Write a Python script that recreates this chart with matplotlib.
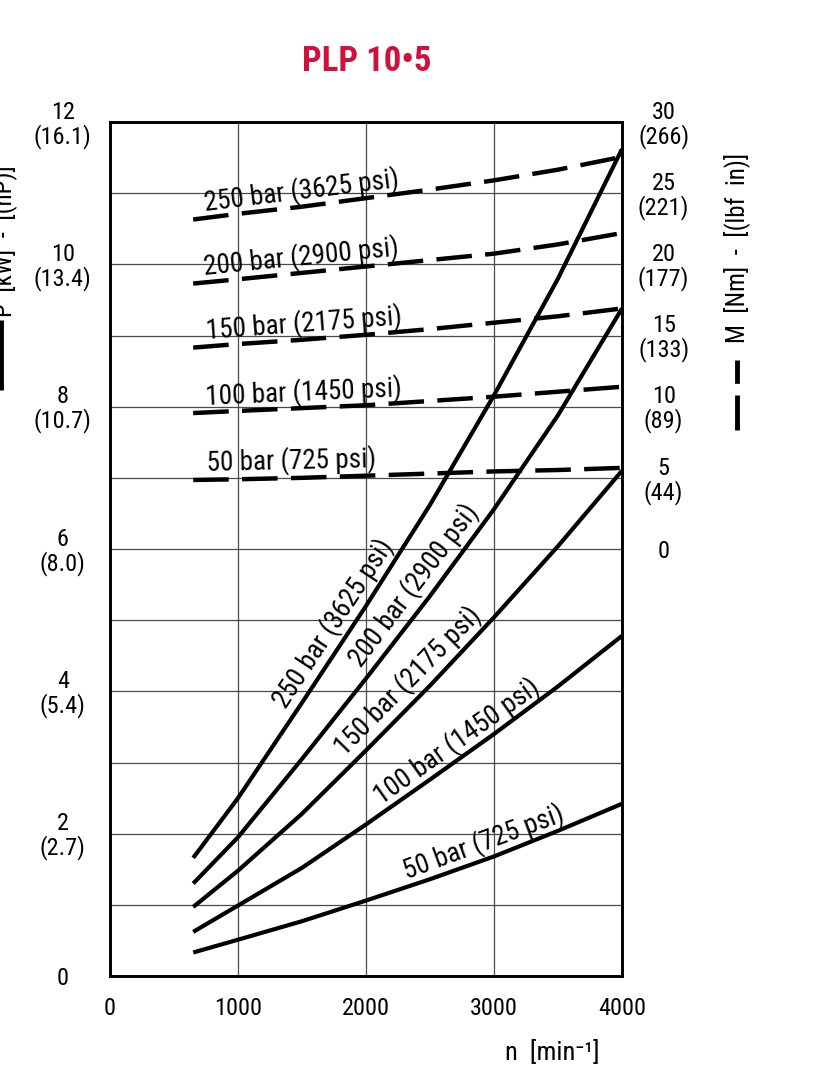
import numpy as np
import matplotlib
matplotlib.use('Agg')
import matplotlib.pyplot as plt
from matplotlib import font_manager
from matplotlib.lines import Line2D

# speed [min-1]
speed = [650, 1000, 1500, 2000, 2500, 3000, 3500, 4000]

bar_labels = ['50 bar (725 psi)', '100 bar (1450 psi)', '150 bar (2175 psi)',
              '200 bar (2900 psi)', '250 bar (3625 psi)']

# power P [kW] (solid lines)
power_50 = [0.33, 0.51, 0.77, 1.06, 1.36, 1.68, 2.04, 2.42]
power_100 = [0.62, 0.99, 1.52, 2.13, 2.76, 3.40, 4.07, 4.78]
power_150 = [0.97, 1.48, 2.28, 3.17, 4.08, 5.04, 6.04, 7.10]
power_200 = [1.30, 1.95, 3.05, 4.18, 5.34, 6.56, 7.88, 9.38]
power_250 = [1.66, 2.50, 3.84, 5.20, 6.62, 8.16, 9.80, 11.62]

# torque M [Nm] (dashed lines)
torque_50 = [4.85, 4.90, 5.00, 5.15, 5.30, 5.45, 5.55, 5.70]
torque_100 = [9.55, 9.70, 9.90, 10.10, 10.40, 10.70, 11.05, 11.40]
torque_150 = [14.15, 14.40, 14.70, 15.05, 15.45, 15.90, 16.35, 16.90]
torque_200 = [18.65, 18.95, 19.40, 19.85, 20.30, 20.75, 21.40, 22.20]
torque_250 = [23.15, 23.55, 24.05, 24.65, 25.25, 25.90, 26.65, 27.55]

power = [power_50, power_100, power_150, power_200, power_250]
torque = [torque_50, torque_100, torque_150, torque_200, torque_250]

n_ticks = [0, 1000, 2000, 3000, 4000]
kw_ticks = [0, 2, 4, 6, 8, 10, 12]
kw_labels = ['0', '2\n(2.7)', '4\n(5.4)', '6\n(8.0)', '8\n(10.7)', '10\n(13.4)', '12\n(16.1)']
nm_ticks = [0, 5, 10, 15, 20, 25, 30]
nm_labels = ['0', '5\n(44)', '10\n(89)', '15\n(133)', '20\n(177)', '25\n(221)', '30\n(266)']


def pick_font(names):
    for name in names:
        try:
            font_manager.findfont(font_manager.FontProperties(family=name),
                                  fallback_to_default=False)
            return name
        except ValueError:
            pass
    return 'DejaVu Sans'


font = pick_font(['Roboto Condensed', 'Liberation Sans Narrow', 'Liberation Sans'])
plt.rcParams['font.family'] = [font, 'DejaVu Sans']

W, H = 832, 1080
fig = plt.figure(figsize=(W / 100, H / 100), dpi=100)
ax = fig.add_axes([110 / W, 104 / H, 512 / W, 854 / H])
ax2 = ax.twinx()

ax.set_xlim(0, 4000)
ax.set_ylim(0, 12)
ax2.set_ylim(-30, 30)

ax.set_xticks(n_ticks)
ax.set_xticklabels([str(v) for v in n_ticks])
ax.set_yticks(kw_ticks)
ax.set_yticklabels(kw_labels)
ax.set_yticks(range(1, 12, 2), minor=True)
ax.grid(True, which='both', color='#4a4a4a', lw=0.9)
ax.set_axisbelow(True)
ax.tick_params(which='both', length=0)
ax.tick_params(axis='x', pad=15, labelsize=17.5)
ax.tick_params(axis='y', pad=34, labelsize=17.5)
for lab in ax.get_yticklabels():
    lab.set_ha('center')
    lab.set_multialignment('center')
    lab.set_linespacing(1.0)

ax2.set_yticks(nm_ticks)
ax2.set_yticklabels(nm_labels)
ax2.tick_params(length=0, pad=30, labelsize=17.5)
for lab in ax2.get_yticklabels():
    lab.set_ha('center')
    lab.set_multialignment('center')
    lab.set_linespacing(1.0)

for a in (ax, ax2):
    for s in a.spines.values():
        s.set_linewidth(1.9)
        s.set_color('black')

for p in power:
    ax.plot(speed, p, color='black', lw=3.0, solid_capstyle='butt',
            solid_joinstyle='round', clip_on=False)
for t in torque:
    ax2.plot(speed, t, color='black', lw=3.2, dashes=(8, 3), clip_on=False)


def curve_label(a, xs, ys, at, text, dist, size=19.5):
    xs = np.asarray(xs, float)
    ys = np.asarray(ys, float)
    y0 = np.interp(at, xs, ys)
    p0 = a.transData.transform((at - 80, np.interp(at - 80, xs, ys)))
    p1 = a.transData.transform((at + 80, np.interp(at + 80, xs, ys)))
    ang = np.degrees(np.arctan2(p1[1] - p0[1], p1[0] - p0[0]))
    nx, ny = -np.sin(np.radians(ang)), np.cos(np.radians(ang))
    off = dist * 72 / fig.dpi
    a.annotate(text, (at, y0), xytext=(nx * off, ny * off), textcoords='offset points',
               rotation=ang, rotation_mode='anchor', ha='center', va='center', fontsize=size)


# labels along the power curves
solid_at = [2968, 2780, 2430, 2494, 1859]
solid_dist = [17, 16, 19, 20, 18]
for p, lab, at, d in zip(power, bar_labels, solid_at, solid_dist):
    curve_label(ax, speed, p, at, lab, d)

# labels above the torque curves
dash_at = [1422, 1520, 1525, 1508, 1508]
dash_dist = [17, 16, 16, 16, 16]
for t, lab, at, d in zip(torque, bar_labels, dash_at, dash_dist):
    curve_label(ax2, speed, t, at, lab, d)

ax.set_xlabel('n  [min⁻¹]', fontsize=19)
ax.xaxis.set_label_coords((552 - 110) / 512, -(1053 - 976) / 854)
ax.xaxis.label.set_va('center')

# title
fig.text(367 / W, 1 - 62 / H, 'PLP 10•5', color='#d2103c', fontsize=25,
         fontweight='bold', ha='center', va='center')

# axis titles with line samples
fig.text(4 / W, 1 - 317 / H, 'P  [kW]  -  [(hP)]', rotation=90, ha='center', va='bottom',
         fontsize=18)
fig.add_artist(Line2D([1 / W, 1 / W], [1 - 390 / H, 1 - 320 / H], color='black', lw=3.5,
                      solid_capstyle='butt', transform=fig.transFigure))
fig.text(737 / W, 1 - 343 / H, 'M  [Nm]  -  [(lbf  in)]', rotation=90, ha='center',
         va='bottom', fontsize=18)
fig.add_artist(Line2D([737 / W, 737 / W], [1 - 430 / H, 1 - 360 / H], color='black', lw=3.5,
                      dashes=(7.2, 2.4), transform=fig.transFigure))

fig.savefig('out.png', dpi=100)
